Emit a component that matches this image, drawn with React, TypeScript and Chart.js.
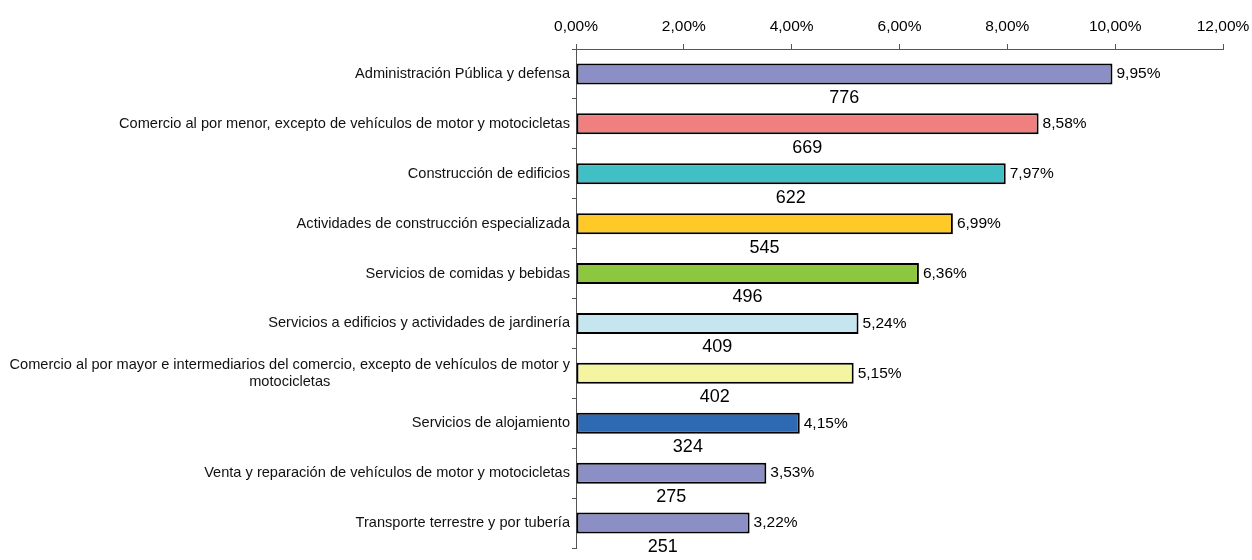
import React, { useEffect, useRef } from "react";
import { Chart, registerables } from "chart.js";

Chart.register(...registerables);

const categories: string[][] = [
  ["Administración Pública y defensa"],
  ["Comercio al por menor, excepto de vehículos de motor y motocicletas"],
  ["Construcción de edificios"],
  ["Actividades de construcción especializada"],
  ["Servicios de comidas y bebidas"],
  ["Servicios a edificios y actividades de jardinería"],
  ["Comercio al por mayor e intermediarios del comercio, excepto de vehículos de motor y", "motocicletas"],
  ["Servicios de alojamiento"],
  ["Venta y reparación de vehículos de motor y motocicletas"],
  ["Transporte terrestre y por tubería"],
];

const percentages: number[] = [9.95, 8.58, 7.97, 6.99, 6.36, 5.24, 5.15, 4.15, 3.53, 3.22];
const counts: number[] = [776, 669, 622, 545, 496, 409, 402, 324, 275, 251];
const barColors: string[] = [
  "#8C8FC6",
  "#F08080",
  "#40C0C4",
  "#FFC928",
  "#8DC63F",
  "#C5E6EE",
  "#F5F4A0",
  "#2E69B3",
  "#8C8FC6",
  "#8C8FC6",
];
const xTicks: number[] = [0, 2, 4, 6, 8, 10, 12];

const fmt = (v: number) => v.toFixed(2).replace(".", ",") + "%";
const FONT = "'Liberation Sans', Arial, sans-serif";

const labelPlugin = {
  id: "customLabels",
  afterDatasetsDraw(chart: any) {
    const ctx = chart.ctx;
    const meta = chart.getDatasetMeta(0);
    const yScale = chart.scales.y;
    const xScale = chart.scales.x;
    const step = yScale.getPixelForValue(1) - yScale.getPixelForValue(0);
    ctx.save();
    ctx.fillStyle = "#000";
    // value labels
    ctx.font = `15.5px ${FONT}`;
    ctx.textAlign = "left";
    ctx.textBaseline = "middle";
    meta.data.forEach((bar: any, i: number) => {
      ctx.fillText(fmt(percentages[i]), bar.x + 4, bar.y);
    });
    // count labels
    ctx.font = `18px ${FONT}`;
    ctx.textAlign = "center";
    meta.data.forEach((bar: any, i: number) => {
      const mid = (xScale.getPixelForValue(0) + bar.x) / 2;
      ctx.fillText(String(counts[i]), mid, bar.y + step / 2 - 1);
    });
    // category labels
    ctx.font = `14.6px ${FONT}`;
    ctx.fillStyle = "#111";
    const right = yScale.right - 6;
    categories.forEach((lines, i) => {
      const y = yScale.getPixelForValue(i);
      const lh = 17;
      const top = y - ((lines.length - 1) * lh) / 2;
      if (lines.length === 1) {
        ctx.textAlign = "right";
        ctx.fillText(lines[0], right, top);
      } else {
        const w = ctx.measureText(lines[0]).width;
        const center = right - w / 2;
        ctx.textAlign = "center";
        lines.forEach((l, j) => ctx.fillText(l, center, top + j * lh));
      }
    });
    ctx.restore();
  },
};

export default function App() {
  const ref = useRef<HTMLCanvasElement>(null);
  useEffect(() => {
    document.body.style.margin = "0";
    document.body.style.overflow = "hidden";
    const chart = new Chart(ref.current!, {
      type: "bar",
      data: {
        labels: categories.map((c) => c.join(" ")),
        datasets: [
          {
            data: percentages,
            backgroundColor: barColors,
            borderColor: "#000",
            borderWidth: 2,
            borderSkipped: false,
            categoryPercentage: 0.84,
            barPercentage: 0.5,
          },
        ],
      },
      options: {
        indexAxis: "y",
        animation: false,
        responsive: false,
        devicePixelRatio: 1,
        layout: { padding: { left: 0, right: 29, top: 0, bottom: 12 } },
        plugins: { legend: { display: false }, tooltip: { enabled: false } },
        scales: {
          x: {
            position: "top",
            min: 0,
            max: 12,
            afterFit: (s: any) => {
              s.height = 49;
              s.paddingLeft = 0;
              s.paddingRight = 0;
            },
            afterBuildTicks: (s: any) => {
              s.ticks = xTicks.map((v) => ({ value: v }));
            },
            ticks: {
              callback: (v: any) => fmt(Number(v)),
              font: { family: FONT, size: 15.5 },
              color: "#000",
              padding: 8,
              maxRotation: 0,
            },
            grid: {
              drawOnChartArea: false,
              drawTicks: true,
              tickLength: 5,
              color: "#555",
            },
            border: { display: true, color: "#555", width: 1 },
          },
          y: {
            afterFit: (s: any) => {
              s.width = 576;
            },
            ticks: { display: false },
            grid: {
              offset: true,
              drawOnChartArea: false,
              drawTicks: true,
              tickLength: 4,
              color: "#555",
            },
            border: { display: true, color: "#555", width: 1 },
          },
        },
      },
      plugins: [labelPlugin],
    });
    return () => chart.destroy();
  }, []);
  return <canvas ref={ref} width={1252} height={560} style={{ display: "block" }} />;
}
